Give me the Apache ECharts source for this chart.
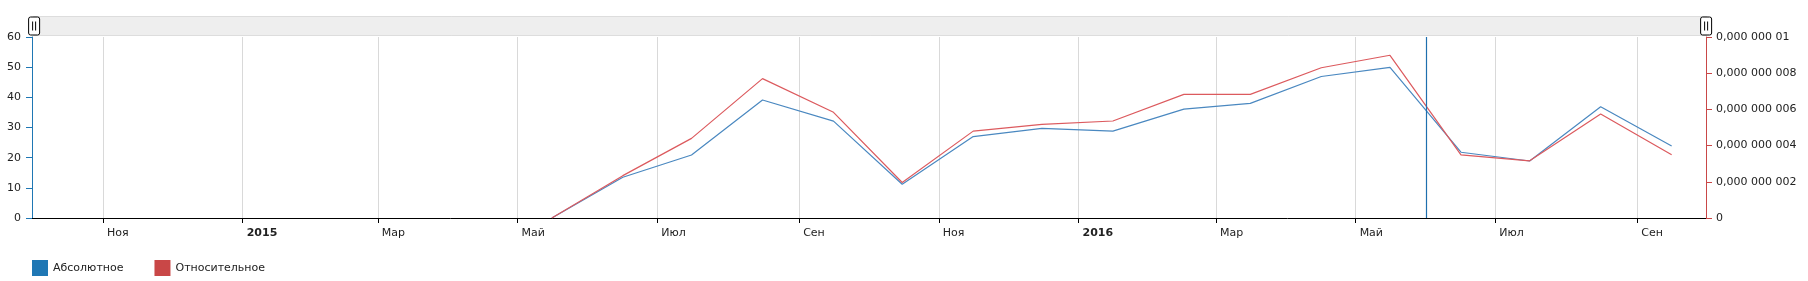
<!DOCTYPE html>
<html>
<head>
<meta charset="utf-8">
<script src="https://cdn.jsdelivr.net/npm/echarts@6/dist/echarts.min.js"></script>
<style>
html,body{margin:0;padding:0;background:#fff;}
#chart{width:1808px;height:281px;}
</style>
</head>
<body>
<div id="chart"></div>
<script>
// ---- data ----
var dates = ['2015-05-16','2015-06-16','2015-07-16','2015-08-16','2015-09-16','2015-10-16',
             '2015-11-16','2015-12-16','2016-01-16','2016-02-16','2016-03-16','2016-04-16',
             '2016-05-16','2016-06-16','2016-07-16','2016-08-16','2016-09-16'];
var absoluteValues = [0, 13.5, 20.9, 39.1, 32.1, 11.2, 27.0, 29.7, 28.8, 36.1, 38.0, 46.9, 49.9, 21.8, 18.9, 36.9, 23.9];
var relativeValues = [0, 2.34e-9, 4.4e-9, 7.7e-9, 5.84e-9, 1.96e-9, 4.8e-9, 5.17e-9, 5.36e-9, 6.83e-9, 6.83e-9, 8.3e-9, 8.99e-9, 3.49e-9, 3.16e-9, 5.75e-9, 3.49e-9];
var seriesNames = ['Абсолютное', 'Относительное'];
var monthNames = ['Янв','Фев','Мар','Апр','Май','Июн','Июл','Авг','Сен','Окт','Ноя','Дек'];
var markerDate = '2016-06-01';
var xMin = '2014-10-01', xMax = '2016-10-01';

var BLUE = '#1f77b4', RED = '#c94747';
var FONT = 'DejaVu Sans';

function fmtRel(v){
  if (Math.abs(v) < 1e-15) return '0';
  var s = v.toFixed(9).replace(/0+$/,'');
  var parts = s.split('.');
  var frac = parts[1] || '';
  var g = frac.match(/.{1,3}/g) || [];
  return parts[0] + (g.length ? ',' + g.join(' ') : '');
}

var absData = dates.map(function(d,i){ return [d, absoluteValues[i]]; });
var relData = dates.map(function(d,i){ return [d, relativeValues[i]]; });

var chart = echarts.init(document.getElementById('chart'), null, {renderer:'canvas'});
chart.setOption({
  animation:false,
  textStyle:{fontFamily:FONT},
  grid:{left:32, right:102, top:37, bottom:63, containLabel:false},
  legend:{
    left:32, top:260, padding:0, itemWidth:16, itemHeight:16, itemGap:31, icon:'rect',
    textStyle:{fontFamily:FONT, fontSize:11, color:'#222'},
    data:seriesNames
  },
  dataZoom:[{
    type:'slider', xAxisIndex:0, filterMode:'none', start:0, end:100,
    top:16, height:20, left:32, right:102,
    showDataShadow:false, showDetail:false, brushSelect:false, moveHandleSize:0,
    backgroundColor:'#eeeeee', borderColor:'#dddddd', fillerColor:'rgba(0,0,0,0)',
    handleIcon:'path://M2,0 L9,0 Q11,0 11,2 L11,16 Q11,18 9,18 L2,18 Q0,18 0,16 L0,2 Q0,0 2,0 Z M4,4.5 L4,13.5 M7,4.5 L7,13.5',
    handleSize:'90%',
    handleStyle:{color:'#ffffff', borderColor:'#000000', borderWidth:1},
    emphasis:{handleStyle:{color:'#ffffff', borderColor:'#000000', borderWidth:1}},
    dataBackground:{lineStyle:{opacity:0}, areaStyle:{opacity:0}}
  }],
  xAxis:{
    type:'time', min:xMin, max:xMax, splitNumber:10,
    axisLine:{show:true, lineStyle:{color:'#000', width:1}},
    axisTick:{show:true, length:5, lineStyle:{color:'#000'}},
    splitLine:{show:true, lineStyle:{color:'#d9d9d9', width:1}},
    axisLabel:{
      showMinLabel:false, showMaxLabel:false,
      align:'left', margin:10, padding:[0,0,0,4],
      fontFamily:FONT, fontSize:11, color:'#222',
      formatter:function(value){
        var d = new Date(value);
        if (d.getMonth() === 0) return '{y|' + d.getFullYear() + '}';
        return monthNames[d.getMonth()];
      },
      rich:{y:{fontWeight:'bold', fontFamily:FONT, fontSize:11, color:'#222'}}
    }
  },
  yAxis:[{
    type:'value', min:0, max:60, interval:10, position:'left',
    axisLine:{show:true, lineStyle:{color:BLUE, width:1}},
    axisTick:{show:true, length:6, lineStyle:{color:BLUE}},
    splitLine:{show:false},
    axisLabel:{margin:11, fontFamily:FONT, fontSize:11, color:'#222'}
  },{
    type:'value', min:0, max:1e-8, interval:2e-9, position:'right',
    axisLine:{show:true, lineStyle:{color:RED, width:1}},
    axisTick:{show:true, length:6, lineStyle:{color:RED}},
    splitLine:{show:false},
    axisLabel:{margin:10, fontFamily:FONT, fontSize:11, color:'#222', formatter:fmtRel}
  }],
  series:[{
    name:seriesNames[0], type:'line', yAxisIndex:0, data:absData,
    symbol:'none', showSymbol:false, color:BLUE,
    lineStyle:{color:'#4a88c0', width:1.2},
    markLine:{
      silent:true, symbol:['none','none'], label:{show:false},
      lineStyle:{color:'#1f6fae', width:1.2, type:'solid'},
      data:[{xAxis:markerDate}]
    }
  },{
    name:seriesNames[1], type:'line', yAxisIndex:1, data:relData,
    symbol:'none', showSymbol:false, color:RED,
    lineStyle:{color:'#dc5a5e', width:1.2}
  }]
});
</script>
</body>
</html>
